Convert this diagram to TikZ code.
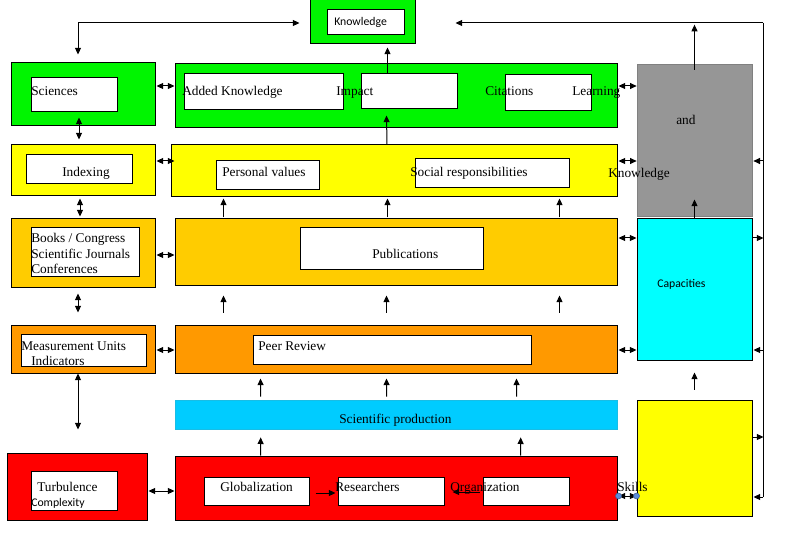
\documentclass[tikz,border=0pt]{standalone}
\usepackage{fontspec}
\setmainfont{Liberation Serif}
\newfontfamily\calibfont{Carlito}
\usetikzlibrary{fit,calc,arrows.meta}
\definecolor{cgreen}{RGB}{0,245,0}
\definecolor{cyellow}{RGB}{255,255,0}
\definecolor{cgold}{RGB}{255,204,0}
\definecolor{corange}{RGB}{255,153,0}
\definecolor{cblue}{RGB}{0,204,255}
\definecolor{ccyan}{RGB}{0,255,255}
\definecolor{cgray}{RGB}{150,150,150}
\definecolor{cred}{RGB}{255,0,0}
\definecolor{cdot}{RGB}{91,141,217}
\newcommand{\mybox}[6]{\node[#6, inner sep=0pt, fit={(#2,#3) (#4,#5)}] (#1) {};}
\begin{document}
\begin{tikzpicture}[x=0.75pt, y=-0.75pt,
  box/.style={draw=black, line width=0.75pt, rectangle},
  wbox/.style={box, fill=white},
  txt/.style={font=\fontsize{10}{12}\selectfont, inner sep=0pt, anchor=base west},
  stxt/.style={font=\calibfont\fontsize{8.8}{10}\selectfont, inner sep=0pt, anchor=base west},
  arr/.style={line width=0.75pt, -{Triangle[length=5pt,width=4.5pt]}},
  darr/.style={line width=0.75pt, {Triangle[length=5pt,width=4.5pt]}-{Triangle[length=5pt,width=4.5pt]}},
  bus/.style={line width=0.75pt},
  dotn/.style={circle, fill=cdot, draw=cdot!70!black, line width=0.4pt, inner sep=0pt, minimum size=4.5pt}]
\useasboundingbox (0,0) rectangle (810,538);
\fill[white] (0,0) rectangle (810,538);

% outer boxes
\mybox{know}{310}{0}{415}{44}{box, fill=cgreen}
\mybox{sci}{11}{63}{155}{126}{box, fill=cgreen}
\mybox{grn}{175}{64}{617}{128}{box, fill=cgreen}
\mybox{gray}{637}{64}{752}{216}{fill=cgray, draw=cgray!85!black, line width=0.5pt}
\mybox{idx}{11}{145}{155}{196}{box, fill=cyellow}
\mybox{yel}{171}{145}{617}{197}{box, fill=cyellow}
\mybox{books}{11}{219}{155}{288}{box, fill=cgold}
\mybox{pub}{175}{219}{617}{286}{box, fill=cgold}
\mybox{cyan}{637}{219}{752}{360}{box, fill=ccyan}
\mybox{meas}{11}{325}{155}{373}{box, fill=corange}
\mybox{peer}{175}{325}{617}{373}{box, fill=corange}
\mybox{sp}{175}{400}{617}{429}{fill=cblue, draw=cblue!80!gray, line width=0.5pt}
\mybox{yright}{637}{400}{752}{516}{box, fill=cyellow}
\mybox{turb}{7}{453}{147}{520}{box, fill=cred}
\mybox{red}{175}{456}{617}{520}{box, fill=cred}

% inner white boxes
\mybox{knowin}{327}{10}{404}{35}{wbox}
\mybox{sciin}{31}{78}{117}{112}{wbox}
\mybox{addk}{184}{74}{343}{110}{wbox}
\mybox{imp}{361}{74}{457}{109}{wbox}
\mybox{cit}{505}{75}{591}{111}{wbox}
\mybox{idxin}{26}{155}{132}{184}{wbox}
\mybox{pv}{216}{161}{319}{190}{wbox}
\mybox{sr}{415}{159}{569}{188}{wbox}
\mybox{booksin}{31}{228}{139}{277}{wbox}
\mybox{pubin}{300}{228}{483}{270}{wbox}
\mybox{measin}{21}{334}{146}{366}{wbox}
\mybox{peerin}{253}{335}{531}{364}{wbox}
\mybox{turbin}{31}{471}{117}{510}{wbox}
\mybox{glob}{204}{477}{309}{505}{wbox}
\mybox{res}{338}{477}{444}{505}{wbox}
\mybox{org}{483}{477}{569}{505}{wbox}

% bus on the right
\coordinate (bt) at (763,23);
\coordinate (bb) at (763,497);
\draw[bus] (bt) -- (bb);
\draw[arr] (bt) -- ($(know.east)+(40,1)$);
\draw[arr] ($(gray.east)+(11,21)$) -- ($(gray.east)+(1,21)$);
\draw[arr] ($(cyan.east)+(0,-51.5)$) -- ($(cyan.east)+(11,-51.5)$);
\draw[arr] ($(cyan.east)+(11,60.5)$) -- ($(cyan.east)+(1,60.5)$);
\draw[arr] ($(yright.east)+(0,-21)$) -- ($(yright.east)+(11,-21)$);
\draw[arr] (bb) -- ($(yright.east)+(1,39)$);

% top-left link
\draw[darr] ($(know.west)+(-10,1)$) -| ($(sci.north)+(-5,-8)$);

% vertical arrows in the right column
\draw[arr] ($(gray.north)+(0,6)$) -- ($(gray.north)+(0,-39)$);
\draw[arr] (cyan.north) -- ($(cyan.north)+(0,-19)$);
\draw[arr] ($(yright.north)+(0,-10)$) -- ($(cyan.south)+(0,12)$);

% impact arrows
\draw[arr] ($(imp.north west)+(27,0)$) -- ($(imp.north west)+(27,-26)$);
\draw[arr] ($(yel.north)+(-7,0)$) -- ($(imp.south west)+(26,6)$);

% upward arrows between rows
\foreach \dx in {49,213,385}
  \draw[arr] ($(pub.north west)+(\dx,-1)$) -- ($(yel.south west)+(\dx+4,1)$);
\foreach \dx in {49,212,385}
  \draw[arr] ($(peer.north west)+(\dx,-12)$) -- ($(pub.south west)+(\dx,9)$);
\foreach \dx in {86,212,342}
  \draw[arr] ($(sp.north west)+(\dx,-3)$) -- ($(peer.south west)+(\dx,5)$);
\foreach \dx in {86,346}
  \draw[arr] ($(red.north west)+(\dx,0)$) -- ($(sp.south west)+(\dx,8)$);

% left column vertical double arrows
\draw[darr] ($(sci.south)+(-4,-9)$) -- ($(idx.north)+(-4,-5)$);
\draw[darr] ($(idx.south)+(-3,2)$) -- ($(books.north)+(-3,-2)$);
\draw[darr] ($(books.south)+(-5,5)$) -- ($(meas.north)+(-5,-12)$);
\draw[darr] ($(meas.south)+(-5,0)$) -- ($(turb.north)+(1,-23)$);

% horizontal double arrows, left
\draw[darr] ($(sci.east)+(1,-8.5)$) -- ($(grn.west)+(0,-10)$);
\draw[darr] ($(idx.east)+(1,-9.5)$) -- ($(yel.west)+(4,-10)$);
\draw[darr] ($(books.east)+(1,1.5)$) -- ($(pub.west)+(0,2.5)$);
\draw[darr] ($(meas.east)+(1,1)$) -- ($(peer.west)+(0,1)$);
\draw[darr] ($(turb.east)+(1,4.5)$) -- ($(red.west)+(0,3)$);

% horizontal double arrows, right
\draw[darr] ($(grn.east)+(1,-10)$) -- ($(gray.west)+(0,-54)$);
\draw[darr] ($(yel.east)+(1,-10)$) -- ($(gray.west)+(0,21)$);
\draw[darr] ($(pub.east)+(1,-14.5)$) -- ($(cyan.west)+(0,-51.5)$);
\draw[darr] ($(peer.east)+(1,1)$) -- ($(cyan.west)+(0,60.5)$);
\draw[darr] ($(red.east)+(1,8)$) -- ($(yright.west)+(0,38)$);
\node[dotn] (dot1) at ($(red.east)+(1,8)$) {};
\node[dotn] (dot2) at ($(yright.west)+(0,38)$) {};

% arrows inside the red box
\draw[arr] ($(glob.east)+(6,2)$) -- ($(res.west)+(-2,2)$);
\draw[arr] ($(org.west)+(-3,1)$) -- ($(res.east)+(8,1)$);

% texts
\node[stxt] (tknow) at (334,26) {Knowledge};
\node[txt] (tsci) at (31,95.5) {Sciences};
\node[txt] (tadd) at (182,95.5) {Added Knowledge};
\node[txt] (timp) at (336,95.5) {Impact};
\node[txt] (tcit) at (485,95.5) {Citations};
\node[txt] (tlearn) at (572,95.5) {Learning};
\node[txt] (tand) at (676,124.5) {and};
\node[txt] (tknow2) at (608,177.5) {Knowledge};
\node[txt] (tidx) at (62,176.5) {Indexing};
\node[txt] (tpv) at (222,176.5) {Personal values};
\node[txt] (tsr) at (410,176.5) {Social responsibilities};
\node[txt] (tb1) at (31,242.5) {Books / Congress};
\node[txt] (tb2) at (31,258) {Scientific Journals};
\node[txt] (tb3) at (31,273.5) {Conferences};
\node[txt] (tpub) at (372,258.5) {Publications};
\node[stxt] (tcap) at (657,287) {Capacities};
\node[txt] (tm1) at (21,350.5) {Measurement Units};
\node[txt] (tm2) at (31,365.5) {Indicators};
\node[txt] (tpeer) at (258,350.5) {Peer Review};
\node[txt] (tsp) at (339,423.5) {Scientific production};
\node[txt] (tturb) at (37,491.5) {Turbulence};
\node[stxt] (tcomp) at (31,506) {Complexity};
\node[txt] (tglob) at (220,491.5) {Globalization};
\node[txt] (tres) at (335,491.5) {Researchers};
\node[txt] (torg) at (450,491.5) {Organization};
\node[txt] (tskills) at (617,491.5) {Skills};
\end{tikzpicture}
\end{document}
